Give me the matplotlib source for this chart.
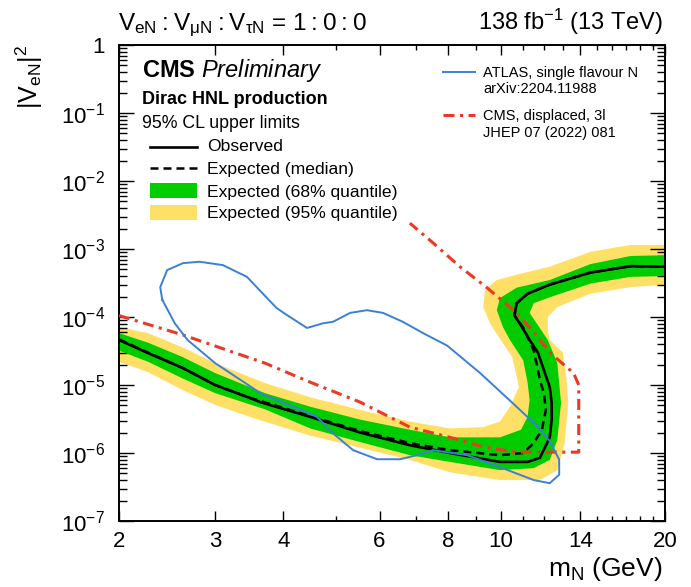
import matplotlib
matplotlib.use('Agg')
import matplotlib.pyplot as plt
import numpy as np
from matplotlib.ticker import FixedLocator, FixedFormatter, NullFormatter
from matplotlib.patches import Rectangle
from matplotlib.lines import Line2D

plt.rcParams['font.family'] = 'Liberation Sans'
plt.rcParams['mathtext.fontset'] = 'custom'
plt.rcParams['mathtext.rm'] = 'Liberation Sans'
plt.rcParams['mathtext.it'] = 'Liberation Sans:italic'
plt.rcParams['mathtext.bf'] = 'Liberation Sans:bold'

# ================= data (m_N in GeV, |V_eN|^2) =================
# observed limit (it bends back around 11-12 GeV)
obs_m = [2.0, 2.26, 2.61, 3.0, 3.45, 3.63, 4.48, 5.53, 6.82, 8.08, 9.97, 11.2, 11.8,
         12.3, 12.4, 12.4, 12.3, 12.0, 11.7, 11.3, 10.9, 10.6, 10.7, 11.2, 12.3, 14.6, 17.3, 20.0]
obs_v = [4.6e-5, 2.95e-5, 1.8e-5, 1.0e-5, 6.6e-6, 5.6e-6, 3.4e-6, 2.0e-6, 1.3e-6, 1.0e-6, 7.4e-7, 7.4e-7, 8.5e-7,
         1.7e-6, 3.1e-6, 5.5e-6, 9.3e-6, 1.66e-5, 3.0e-5, 4.6e-5, 7.5e-5, 1.05e-4, 1.6e-4, 2.2e-4, 3.0e-4, 4.5e-4, 5.6e-4, 5.5e-4]

# expected (median)
exp_m = [2.0, 2.26, 2.61, 3.0, 3.45, 4.48, 5.53, 6.82, 8.08, 9.97, 11.0, 11.5, 11.9, 12.1,
         12.0, 11.8, 11.5, 11.0, 10.6, 10.7, 11.2, 12.3, 14.6, 17.3, 20.0]
exp_v = [4.7e-5, 3.0e-5, 1.8e-5, 1.0e-5, 6.6e-6, 3.5e-6, 2.1e-6, 1.4e-6, 1.1e-6, 9.3e-7, 1.0e-6, 1.4e-6, 2.2e-6, 4.3e-6,
         7.5e-6, 1.2e-5, 3.2e-5, 7.0e-5, 1.05e-4, 1.6e-4, 2.2e-4, 3.0e-4, 4.5e-4, 5.6e-4, 5.5e-4]

# 68% band: outer (upper/left) edge and inner (lower/right) edge
g68_up_m = [2.0, 2.26, 2.61, 3.0, 3.70, 4.48, 5.53, 6.82, 8.08, 9.97, 10.9, 11.2, 11.3, 11.2,
            11.0, 10.4, 10.1, 9.84, 9.97, 10.7, 12.3, 14.6, 17.3, 20.0]
g68_up_v = [5.8e-5, 4.2e-5, 2.6e-5, 1.5e-5, 7.6e-6, 4.8e-6, 3.1e-6, 2.2e-6, 1.7e-6, 1.7e-6, 2.2e-6, 3.4e-6, 6.0e-6, 1.1e-5,
            2.3e-5, 4.6e-5, 7.1e-5, 1.26e-4, 1.9e-4, 2.7e-4, 3.5e-4, 6.0e-4, 7.9e-4, 8.1e-4]
g68_lo_m = [2.0, 2.26, 2.61, 3.0, 3.70, 4.48, 5.53, 6.82, 8.08, 9.97, 11.5, 12.3, 12.7, 12.9,
            12.7, 12.2, 11.7, 11.3, 11.5, 12.3, 14.6, 17.3, 20.0]
g68_lo_v = [3.2e-5, 2.2e-5, 1.26e-5, 7.6e-6, 4.4e-6, 2.3e-6, 1.45e-6, 9.3e-7, 7.4e-7, 5.6e-7, 6.0e-7, 7.9e-7, 1.55e-6, 5.5e-6,
            2.1e-5, 4.6e-5, 7.6e-5, 1.15e-4, 1.6e-4, 1.95e-4, 3.1e-4, 3.9e-4, 4.0e-4]

# 95% band
y95_up_m = [2.0, 2.26, 2.61, 3.0, 3.70, 4.48, 5.53, 6.82, 8.08, 9.29, 9.97, 10.4, 10.8, 10.5,
            10.0, 9.56, 9.29, 9.36, 9.84, 10.7, 12.3, 14.6, 17.3, 20.0]
y95_up_v = [7.1e-5, 5.8e-5, 3.6e-5, 2.1e-5, 1.07e-5, 6.6e-6, 4.3e-6, 2.9e-6, 2.3e-6, 2.4e-6, 2.9e-6, 4.8e-6, 9.3e-6, 2.6e-5,
            4.6e-5, 8.1e-5, 1.4e-4, 2.5e-4, 3.5e-4, 4.2e-4, 5.5e-4, 9.1e-4, 1.15e-3, 1.15e-3]
y95_lo_m = [2.0, 2.26, 2.61, 3.0, 3.55, 4.48, 5.53, 6.82, 8.08, 9.97, 11.8, 12.7, 13.1, 13.3,
            13.2, 13.0, 12.3, 12.2, 12.2, 12.7, 14.6, 17.3, 20.0]
y95_lo_v = [2.2e-5, 1.55e-5, 8.5e-6, 5.1e-6, 3.2e-6, 1.8e-6, 1.2e-6, 7.9e-7, 5.2e-7, 4.0e-7, 4.0e-7, 5.6e-7, 1.4e-6, 5.5e-6,
            1.2e-5, 3.0e-5, 4.6e-5, 6.5e-5, 1.0e-4, 1.4e-4, 2.2e-4, 2.75e-4, 3.0e-4]

# ATLAS single flavour N (closed contour)
atlas_m = [2.40, 2.38, 2.45, 2.62, 2.81, 3.10, 3.43, 3.67, 3.89, 4.06, 4.42, 4.73, 4.93, 5.30,
           5.69, 6.09, 6.62, 7.21, 7.98, 9.17, 10.5, 11.6, 12.3, 12.8, 12.8, 12.3, 11.5, 9.97,
           8.68, 7.52, 7.03, 6.54, 5.94, 5.37, 4.93, 4.61, 4.17, 3.63, 3.45, 3.0, 2.67, 2.53]
atlas_v = [1.8e-4, 2.75e-4, 4.9e-4, 6.2e-4, 6.5e-4, 5.8e-4, 3.9e-4, 2.2e-4, 1.35e-4, 1.07e-4, 6.9e-5, 8.1e-5, 8.5e-5, 1.15e-4,
           1.26e-4, 1.15e-4, 8.5e-5, 5.8e-5, 3.8e-5, 1.5e-5, 5.5e-6, 2.6e-6, 1.5e-6, 8.0e-7, 4.8e-7, 3.6e-7, 4.0e-7, 6.2e-7,
           9.3e-7, 1.1e-6, 9.3e-7, 8.1e-7, 8.1e-7, 1.1e-6, 1.95e-6, 3.4e-6, 4.8e-6, 7.6e-6, 1.0e-5, 2.1e-5, 4.6e-5, 8.1e-5]

# CMS displaced, 3l
disp_m = [2.0, 2.61, 3.70, 4.48, 5.53, 6.82, 8.08, 9.29, 10.7, 13.9, 13.9, 13.6, 12.3, 11.7,
          10.7, 9.44, 8.42, 7.52, 6.82]
disp_v = [1.05e-4, 5.5e-5, 2.1e-5, 1.1e-5, 5.6e-6, 2.4e-6, 1.7e-6, 1.23e-6, 1.03e-6, 1.03e-6, 1.0e-5, 1.5e-5, 3.0e-5, 5.1e-5,
          1.15e-4, 2.7e-4, 5.5e-4, 1.23e-3, 2.4e-3]

x_ticks = [2, 3, 4, 6, 8, 10, 14, 20]
x_minor = [5, 7, 9, 11, 12, 13, 15, 16, 17, 18, 19]
y_ticks = [1e-7, 1e-6, 1e-5, 1e-4, 1e-3, 1e-2, 1e-1, 1]
y_ticklabels = [r'$10^{-7}$', r'$10^{-6}$', r'$10^{-5}$', r'$10^{-4}$', r'$10^{-3}$', r'$10^{-2}$', r'$10^{-1}$', '1']

GREEN = '#00cc00'
YELLOW = '#ffe066'
BLUE = '#3a7fd8'
RED = '#eb3a24'

fig = plt.figure(figsize=(6.91, 5.87), dpi=100)
ax = fig.add_axes([0.1722, 0.1124, 0.7902, 0.8109])
ax.set_xscale('log')
ax.set_yscale('log')

# bands
ax.fill(np.concatenate([y95_up_m, y95_lo_m[::-1]]), np.concatenate([y95_up_v, y95_lo_v[::-1]]),
        color=YELLOW, lw=0, zorder=1)
ax.fill(np.concatenate([g68_up_m, g68_lo_m[::-1]]), np.concatenate([g68_up_v, g68_lo_v[::-1]]),
        color=GREEN, lw=0, zorder=2)

ax.plot(exp_m, exp_v, color='k', lw=1.8, dashes=(3.2, 2.0), zorder=3)
ax.plot(obs_m, obs_v, color='k', lw=1.9, zorder=3)
ax.plot(disp_m, disp_v, color=RED, lw=2.2, dashes=(3.6, 1.8, 1.0, 1.8), zorder=4)
ax.plot(atlas_m + atlas_m[:1], atlas_v + atlas_v[:1], color=BLUE, lw=1.4, zorder=5)

ax.set_xlim(2, 20)
ax.set_ylim(1e-7, 1)

ax.xaxis.set_major_locator(FixedLocator(x_ticks))
ax.xaxis.set_major_formatter(FixedFormatter([str(t) for t in x_ticks]))
ax.xaxis.set_minor_locator(FixedLocator(x_minor))
ax.xaxis.set_minor_formatter(NullFormatter())
ax.yaxis.set_major_locator(FixedLocator(y_ticks))
ax.yaxis.set_major_formatter(FixedFormatter(y_ticklabels))
ax.yaxis.set_minor_locator(matplotlib.ticker.LogLocator(base=10, subs=np.arange(2, 10), numticks=20))
ax.yaxis.set_minor_formatter(NullFormatter())

ax.tick_params(which='both', direction='in', top=True, right=True, width=1.0)
ax.tick_params(axis='x', which='major', length=7.2, pad=7, labelsize=16)
ax.tick_params(axis='x', which='minor', length=3.5)
ax.tick_params(axis='y', which='major', length=10.8, pad=10, labelsize=16)
ax.tick_params(axis='y', which='minor', length=5.8)
for s in ax.spines.values():
    s.set_linewidth(1.4)

ax.set_xlabel(r'm$_{\mathrm{N}}$ (GeV)', fontsize=19, loc='right')
ax.xaxis.set_label_coords(0.995, -0.072)
ax.set_ylabel(r'|V$_{\mathrm{eN}}$|$^{2}$', fontsize=18, loc='top')
ax.yaxis.set_label_coords(-0.135, 1.0)

# header
ax.text(-0.002, 1.032,
        'V$_{\\mathrm{eN}}$\u2009:\u2009V$_{\\mathrm{\\mu N}}$\u2009:\u2009V$_{\\mathrm{\\tau N}}$'
        ' = 1\u2009:\u20090\u2009:\u20090',
        transform=ax.transAxes, fontsize=17.5, va='baseline', ha='left')
ax.text(0.995, 1.032, r'138 fb$^{-1}$ (13 TeV)', transform=ax.transAxes, fontsize=17,
        va='baseline', ha='right')

# left text block and legend
ax.text(0.0416, 0.9334, r'$\mathbf{CMS}\ \mathit{Preliminary}$', transform=ax.transAxes,
        fontsize=17, va='baseline')
ax.text(0.0416, 0.8754, 'Dirac HNL production', transform=ax.transAxes, fontsize=13,
        fontweight='bold', va='baseline')
ax.text(0.0416, 0.8256, '95% CL upper limits', transform=ax.transAxes, fontsize=12.8, va='baseline')

hx0, hx1, tx = 0.0568, 0.1429, 0.1612
fs_leg = 12.6
ax.add_line(Line2D([hx0, hx1], [0.7863, 0.7863], transform=ax.transAxes, color='k', lw=1.9))
ax.text(tx, 0.7773, 'Observed', transform=ax.transAxes, fontsize=fs_leg, va='baseline')
ax.add_line(Line2D([hx0, hx1], [0.7416, 0.7416], transform=ax.transAxes, color='k', lw=1.8,
                   dashes=(3.2, 2.0)))
ax.text(tx, 0.7290, 'Expected (median)', transform=ax.transAxes, fontsize=fs_leg, va='baseline')
ax.add_patch(Rectangle((hx0, 0.6786), hx1 - hx0, 0.0315, transform=ax.transAxes, color=GREEN, lw=0))
ax.text(tx, 0.6807, 'Expected (68% quantile)', transform=ax.transAxes, fontsize=fs_leg, va='baseline')
ax.add_patch(Rectangle((hx0, 0.6324), hx1 - hx0, 0.0315, transform=ax.transAxes, color=YELLOW, lw=0))
ax.text(tx, 0.6366, 'Expected (95% quantile)', transform=ax.transAxes, fontsize=fs_leg, va='baseline')

# right legend
rx0, rx1, rtx = 0.5934, 0.6520, 0.6667
ax.add_line(Line2D([rx0, rx1], [0.9439, 0.9439], transform=ax.transAxes, color=BLUE, lw=1.4))
ax.text(rtx, 0.9334, 'ATLAS, single flavour N', transform=ax.transAxes, fontsize=10.5, va='baseline')
ax.text(rtx, 0.8985, 'arXiv:2204.11988', transform=ax.transAxes, fontsize=10.5, va='baseline')
ax.add_line(Line2D([rx0, rx1], [0.853, 0.853], transform=ax.transAxes, color=RED, lw=2.2,
                   dashes=(3.6, 1.8, 1.0, 1.8)))
ax.text(rtx, 0.8424, 'CMS, displaced, 3l', transform=ax.transAxes, fontsize=10.5, va='baseline')
ax.text(rtx, 0.8067, 'JHEP 07 (2022) 081', transform=ax.transAxes, fontsize=10.5, va='baseline')

fig.savefig('out.png', dpi=100)
